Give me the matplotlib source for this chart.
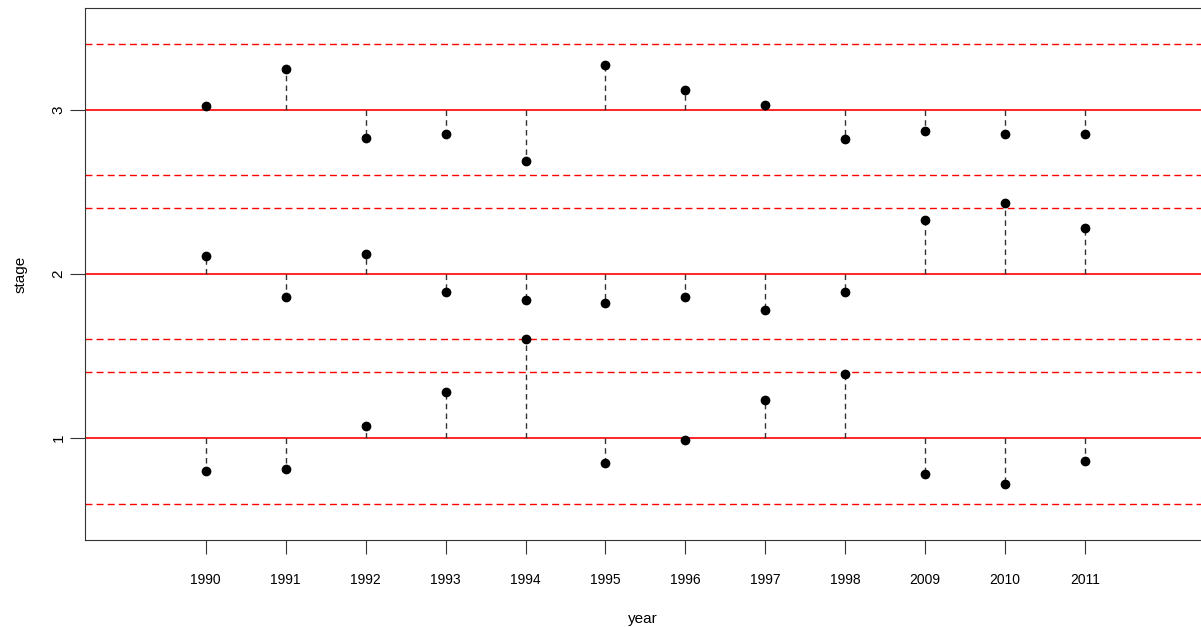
import numpy as np
from matplotlib import pyplot as plt

plt.rcParams['font.family'] = ['Liberation Sans', 'DejaVu Sans']

years = ['1990', '1991', '1992', '1993', '1994', '1995', '1996', '1997', '1998', '2009', '2010', '2011']

# stage estimates per year, grouped around the three reference stages
stage3 = [3.02, 3.25, 2.83, 2.85, 2.69, 3.27, 3.12, 3.03, 2.82, 2.87, 2.85, 2.85]
stage2 = [2.11, 1.86, 2.12, 1.89, 1.84, 1.82, 1.86, 1.78, 1.89, 2.33, 2.43, 2.28]
stage1 = [0.80, 0.81, 1.07, 1.28, 1.60, 0.85, 0.99, 1.23, 1.39, 0.78, 0.72, 0.86]

stages = [1, 2, 3]
limits = [0.6, 1.4, 1.6, 2.4, 2.6, 3.4]

fig = plt.figure(figsize=(12.01, 6.27), dpi=100)
ax = fig.add_axes([0.0708, 0.1388, 0.9292, 0.8484])

x = np.arange(1, len(years) + 1)

for s in stages:
    ax.axhline(s, color='red', lw=1.2, zorder=1)
for l in limits:
    ax.axhline(l, color='red', lw=1, ls=(0, (5, 3)), zorder=1)

for s, vals in zip([3, 2, 1], [stage3, stage2, stage1]):
    for xi, v in zip(x, vals):
        ax.plot([xi, xi], [s, v], color='#333333', lw=1, ls=(0, (4, 3)), zorder=2)
    ax.plot(x, vals, 'o', color='black', ms=6, zorder=3)

ax.set_xlim(-0.51, 13.45)
ax.set_ylim(0.378, 3.62)
ax.set_xticks(x)
ax.set_xticklabels(years, fontsize=10)
ax.set_yticks(stages)
ax.set_yticklabels(['1', '2', '3'], fontsize=11, rotation=90, va='center')
ax.tick_params(axis='x', length=10, pad=14, color='#333333')
ax.tick_params(axis='y', length=11, pad=3, color='#333333')

ax.spines['right'].set_visible(False)
for sp in ['left', 'top', 'bottom']:
    ax.spines[sp].set_color('#333333')

ax.set_xlabel('year', fontsize=11, labelpad=18)
ax.set_ylabel('stage', fontsize=11, labelpad=17)

plt.savefig('out.png', dpi=100)
